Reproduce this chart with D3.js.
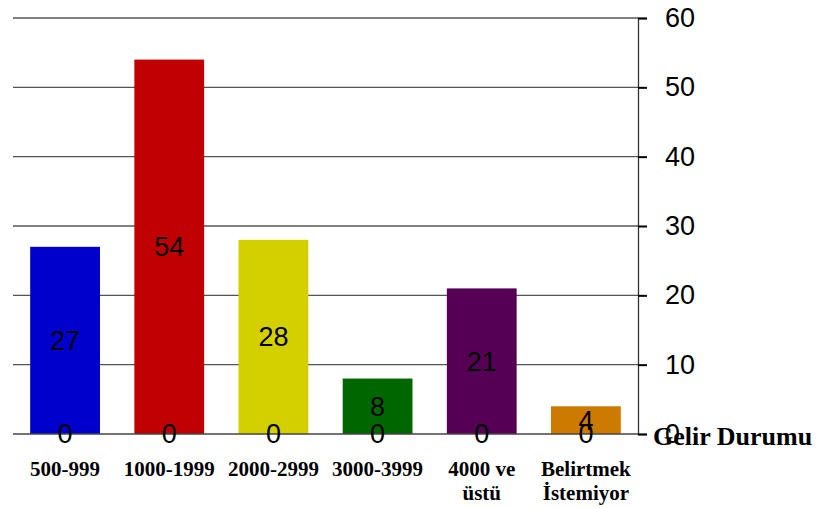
<!DOCTYPE html>
<html><head><meta charset="utf-8">
<script src="https://cdn.jsdelivr.net/npm/d3@7"></script>
<style>body{margin:0;background:#fff}</style>
</head><body>
<script>
const categories = [["500-999"],["1000-1999"],["2000-2999"],["3000-3999"],["4000 ve","üstü"],["Belirtmek","İstemiyor"]];
const values = [27,54,28,8,21,4];
const baseValues = [0,0,0,0,0,0];
const colors = ["#0000cc","#c00000","#d4d000","#006600","#550055","#cc7a00"];
const yTicks = [0,10,20,30,40,50,60];
const axisTitle = "Gelir Durumu";

const W=817,H=508;
const svg=d3.select("body").append("svg").attr("width",W).attr("height",H);
const x=d3.scaleBand().domain(d3.range(categories.length)).range([13,638]).paddingInner(0.33).paddingOuter(0.165);
const y=d3.scaleLinear().domain([0,60]).range([434,18]);

// gridlines
svg.append("g").selectAll("line").data(yTicks.filter(d=>d>0)).join("line")
  .attr("x1",13).attr("x2",638).attr("y1",d=>y(d)).attr("y2",d=>y(d))
  .attr("stroke","#555").attr("stroke-width",1.3);

// bars
svg.append("g").selectAll("rect").data(values).join("rect")
  .attr("x",(d,i)=>x(i)).attr("width",x.bandwidth())
  .attr("y",d=>y(d)).attr("height",d=>y(0)-y(d))
  .attr("fill",(d,i)=>colors[i]);

// baseline
svg.append("line").attr("x1",13).attr("x2",638).attr("y1",y(0)).attr("y2",y(0)).attr("stroke","#444").attr("stroke-width",1.3);

// right axis
const ax=svg.append("g").attr("transform","translate(638,0)")
  .call(d3.axisRight(y).tickValues(yTicks).tickSize(9).tickPadding(18).tickFormat(d3.format("d")));
ax.select(".domain").attr("stroke","#333").attr("stroke-width",1.3);
ax.selectAll(".tick line").attr("stroke","#000").attr("stroke-width",2);
ax.selectAll("text").attr("font-family","Liberation Sans, Arial, sans-serif").attr("font-size",27).attr("fill","#000");

// value labels in middle
svg.append("g").selectAll("text").data(values).join("text")
  .attr("x",(d,i)=>x(i)+x.bandwidth()/2).attr("y",d=>(y(d)+y(0))/2)
  .attr("dy","0.35em").attr("text-anchor","middle")
  .attr("font-family","Liberation Sans, Arial, sans-serif").attr("font-size",27).text(d=>d);

// base "0" labels
svg.append("g").selectAll("text").data(baseValues).join("text")
  .attr("x",(d,i)=>x(i)+x.bandwidth()/2).attr("y",y(0))
  .attr("dy","0.35em").attr("text-anchor","middle")
  .attr("font-family","Liberation Sans, Arial, sans-serif").attr("font-size",27).text(d=>d);

// category labels
const cg=svg.append("g");
categories.forEach((lines,i)=>{
  const t=cg.append("text").attr("x",x(i)+x.bandwidth()/2).attr("y",476).attr("text-anchor","middle")
    .attr("font-family","Liberation Serif, Times New Roman, serif").attr("font-weight","bold").attr("font-size",21);
  lines.forEach((l,j)=>t.append("tspan").attr("x",x(i)+x.bandwidth()/2).attr("dy",j?24:0).text(l));
});

svg.append("text").attr("x",653).attr("y",445).attr("font-family","Liberation Serif, Times New Roman, serif")
  .attr("font-weight","bold").attr("font-size",26).text(axisTitle);
</script>
</body></html>
